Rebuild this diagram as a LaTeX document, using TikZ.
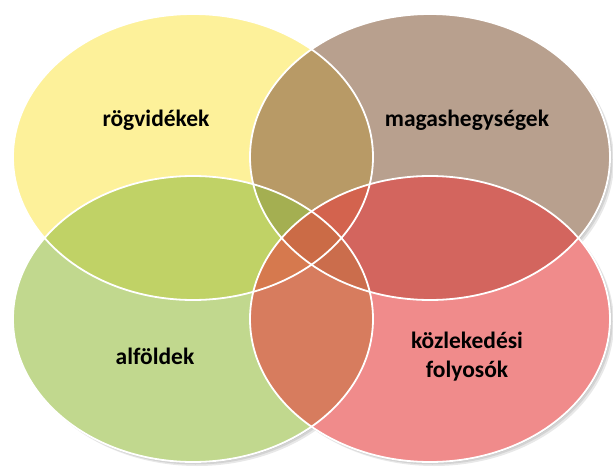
\documentclass[tikz,border=0pt]{standalone}
\usepackage{fontspec}
\setmainfont{Carlito}
\usepackage{tikz}
\usetikzlibrary{shapes.geometric}
\definecolor{vennYellow}{HTML}{FDE958}
\definecolor{vennBrown}{HTML}{8A6144}
\definecolor{vennGreen}{HTML}{98BE44}
\definecolor{vennRed}{HTML}{E63F3F}

\begin{document}
\begin{tikzpicture}[
    x=1pt, y=-1pt,
    vennsize/.style={ellipse, minimum width=360pt, minimum height=286pt, inner sep=0pt},
    vennfill/.style={vennsize, fill=#1, fill opacity=0.6},
    vennbase/.style={vennsize, fill=white},
    vennshade/.style={vennsize, fill=black, fill opacity=0.09},
    venn/.style={vennsize, draw=white, line width=1.8pt},
    lbl/.style={font=\bfseries\fontsize{23.5}{29}\selectfont, align=center},
  ]
  \useasboundingbox (0,0) rectangle (613,468);

  % --- shadow ---
  \foreach \s in {1,2.5,4}{
    \node[vennshade] at (193+\s,157+\s) {};
    \node[vennshade] at (430+\s,157+\s) {};
    \node[vennshade] at (193+\s,319+\s) {};
    \node[vennshade] at (430+\s,319+\s) {};
  }
  \node[vennbase] at (193,157) {};
  \node[vennbase] at (430,157) {};
  \node[vennbase] at (193,319) {};
  \node[vennbase] at (430,319) {};

  % --- fills ---
  \node[vennfill=vennYellow] at (193,157) {};
  \node[vennfill=vennBrown]  at (430,157) {};
  \node[vennfill=vennGreen]  at (193,319) {};
  \node[vennfill=vennRed]    at (430,319) {};

  % --- circles (white rims on top) ---
  \node[venn] (rog)  at (193,157) {};
  \node[venn] (mag)  at (430,157) {};
  \node[venn] (alf)  at (193,319) {};
  \node[venn] (kozl) at (430,319) {};

  % --- labels ---
  \node[lbl] (rogtxt)  at ([shift={(-37,-37)}]rog.center)  {rögvidékek};
  \node[lbl] (magtxt)  at ([shift={(37,-37)}]mag.center)   {magashegységek};
  \node[lbl] (alftxt)  at ([shift={(-38,37)}]alf.center)   {alföldek};
  \node[lbl] (kozltxt) at ([shift={(37,38)}]kozl.center)   {közlekedési\\folyosók};

\end{tikzpicture}
\end{document}
